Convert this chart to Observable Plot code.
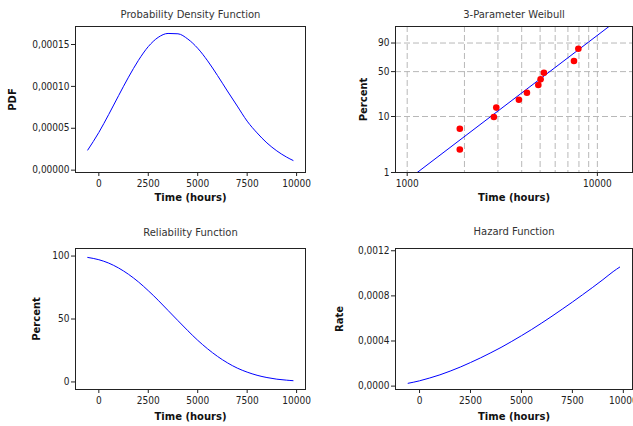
<!DOCTYPE html>
<html><head><meta charset="utf-8">
<script src="https://cdn.jsdelivr.net/npm/d3@7"></script>
<script src="https://cdn.jsdelivr.net/npm/@observablehq/plot@0.6"></script>
<style>
html,body{margin:0;padding:0;background:#fff;overflow:hidden;}
#wrap{position:relative;width:633px;height:426px;overflow:hidden;background:#fff;}
</style></head><body><div id="wrap"></div>
<script>
// ---- Data ----
const hours = [-561, 0, 500, 1000, 1500, 2000, 2500, 3000, 3500, 4000, 4500, 5000, 5500, 6000, 6500, 7000, 7500, 8000, 8500, 9000, 9500, 9820];
const pdfValues = [2.40e-5, 4.50e-5, 6.65e-5, 8.90e-5, 11.10e-5, 13.10e-5, 14.75e-5, 15.85e-5, 16.32e-5, 16.28e-5, 15.65e-5, 14.55e-5, 13.05e-5, 11.30e-5, 9.45e-5, 7.65e-5, 5.85e-5, 4.45e-5, 3.25e-5, 2.30e-5, 1.55e-5, 1.16e-5];
const reliabilityPct = [98.9, 97.1, 94.4, 90.5, 85.5, 79.5, 72.5, 64.9, 56.8, 48.7, 40.7, 33.1, 26.3, 20.3, 15.2, 11.0, 7.8, 5.3, 3.5, 2.2, 1.4, 1.0];
const hazardRate = [0.25e-4, 0.47e-4, 0.72e-4, 1.00e-4, 1.33e-4, 1.69e-4, 2.09e-4, 2.51e-4, 2.96e-4, 3.43e-4, 3.94e-4, 4.47e-4, 5.02e-4, 5.60e-4, 6.20e-4, 6.82e-4, 7.45e-4, 8.10e-4, 8.76e-4, 9.44e-4, 10.15e-4, 10.55e-4];

const probTime = [1891, 1891, 2856, 2941, 3867, 4262, 4892, 5029, 5235, 7532, 7943];
const probPercent = [2.6, 6.1, 9.8, 14.2, 19.2, 24.9, 32.7, 39.4, 48.4, 66.1, 83.6];
const fitTime = [1129, 11510];
const fitPercent = [1, 99];

const timeTicks = [0, 2500, 5000, 7500, 10000];
const pdfTicks = [0, 0.00005, 0.00010, 0.00015];
const relTicks = [0, 50, 100];
const hazTicks = [0, 0.0004, 0.0008, 0.0012];
const probXTicks = [1000, 10000];
const probYTicks = [1, 10, 50, 90];
const gridTimes = [1000, 2000, 3000, 4000, 5000, 6000, 7000, 8000, 9000, 10000];
const gridPercent = [10, 50, 90];

// ---- helpers ----
const curve = (vals) => hours.map((t, i) => ({t, v: vals[i]}));
const probData = probTime.map((t, i) => ({t, p: probPercent[i]}));
const fitData = fitTime.map((t, i) => ({t, p: fitPercent[i]}));
const wz = p => Math.log(-Math.log(1 - p / 100));
const comma = (d, n) => d.toFixed(n).replace(".", ",");

const TXT = "#222";
const tickFont = '"DejaVu Sans Condensed", "DejaVu Sans", sans-serif';
const style = {fontFamily: tickFont, fontSize: "10px", color: TXT, background: "transparent", overflow: "visible"};
const xTime = {domain: [-1180, 10450], ticks: timeTicks, tickFormat: d => String(d), tickSize: 4, tickPadding: 3, label: null};

function title(s, dy) {
  return Plot.text([s], {frameAnchor: "top", dy, textAnchor: "middle", lineAnchor: "middle", fontSize: 10, fill: "#333", fontFamily: "DejaVu Sans"});
}
function xlab(dy) {
  return Plot.text(["Time (hours)"], {frameAnchor: "bottom", dy, textAnchor: "middle", lineAnchor: "middle", fontSize: 10, fontWeight: "bold", fill: "#111", fontFamily: "DejaVu Sans"});
}
function ylab(s, dx) {
  return Plot.text([s], {frameAnchor: "left", dx, rotate: -90, textAnchor: "middle", lineAnchor: "middle", fontSize: 10, fontWeight: "bold", fill: "#111", fontFamily: "DejaVu Sans"});
}

const wrap = document.getElementById("wrap");
function place(el, left, top) {
  el.style.position = "absolute";
  el.style.left = left + "px";
  el.style.top = top + "px";
  wrap.append(el);
}

// Panel 1: PDF
place(Plot.plot({
  width: 316, height: 213, marginLeft: 75, marginRight: 11, marginTop: 26, marginBottom: 41,
  style,
  x: xTime,
  y: {domain: [-0.0000028, 0.0001715], ticks: pdfTicks, tickFormat: d => comma(d, 5), tickSize: 4, tickPadding: 2, label: null},
  marks: [
    Plot.line(curve(pdfValues), {x: "t", y: "v", stroke: "blue", strokeWidth: 1, curve: "monotone-x"}),
    Plot.frame({stroke: "#222"}),
    title("Probability Density Function", -12),
    xlab(25.5),
    ylab("PDF", -62.5)
  ]
}), 0, 0);

// Panel 2: 3-Parameter Weibull probability plot
place(Plot.plot({
  width: 317, height: 213, marginLeft: 79, marginRight: 1, marginTop: 26, marginBottom: 41,
  style,
  x: {type: "log", domain: [868, 15300], ticks: probXTicks, tickFormat: d => String(d), tickSize: 4, tickPadding: 3, label: null},
  y: {domain: [wz(1), wz(99)], ticks: probYTicks.map(wz), tickFormat: z => String(Math.round(100 * (1 - Math.exp(-Math.exp(z))))), tickSize: 4, tickPadding: 2, label: null},
  marks: [
    Plot.ruleX(gridTimes, {stroke: "#b8b8b8", strokeDasharray: "6,3"}),
    Plot.ruleY(gridPercent, {y: wz, stroke: "#b8b8b8", strokeDasharray: "6,3"}),
    Plot.line(fitData, {x: "t", y: d => wz(d.p), stroke: "blue", strokeWidth: 1, clip: true}),
    Plot.dot(probData, {x: "t", y: d => wz(d.p), r: 3.3, fill: "red", stroke: "none"}),
    Plot.frame({stroke: "#222"}),
    title("3-Parameter Weibull", -12),
    xlab(25.5),
    ylab("Percent", -31.7)
  ]
}), 316, 0);

// Panel 3: Reliability
place(Plot.plot({
  width: 316, height: 213, marginLeft: 75, marginRight: 11, marginTop: 35, marginBottom: 37,
  style,
  x: xTime,
  y: {domain: [-6, 106], ticks: relTicks, tickFormat: d => String(d), tickSize: 4, tickPadding: 2, label: null},
  marks: [
    Plot.line(curve(reliabilityPct), {x: "t", y: "v", stroke: "blue", strokeWidth: 1, curve: "monotone-x"}),
    Plot.frame({stroke: "#222"}),
    title("Reliability Function", -16),
    xlab(26.8),
    ylab("Percent", -38.3)
  ]
}), 0, 213);

// Panel 4: Hazard
place(Plot.plot({
  width: 317, height: 213, marginLeft: 79, marginRight: 1, marginTop: 35, marginBottom: 37,
  style,
  x: xTime,
  y: {domain: [-0.00003, 0.00122], ticks: hazTicks, tickFormat: d => comma(d, 4), tickSize: 4, tickPadding: 2, label: null},
  marks: [
    Plot.line(curve(hazardRate), {x: "t", y: "v", stroke: "blue", strokeWidth: 1, curve: "monotone-x"}),
    Plot.frame({stroke: "#222"}),
    title("Hazard Function", -16.5),
    xlab(27),
    ylab("Rate", -55.5)
  ]
}), 316, 213);
</script></body></html>
